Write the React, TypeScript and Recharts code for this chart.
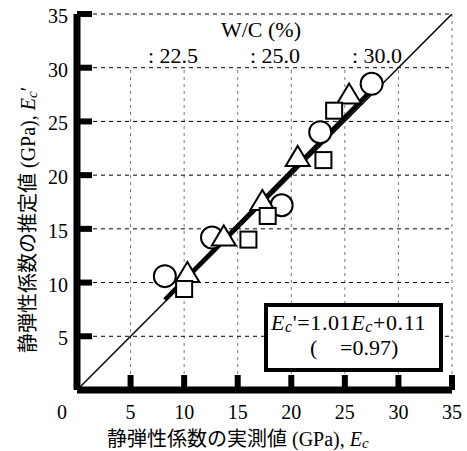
import React from 'react';
import { ScatterChart, Scatter, XAxis, YAxis, CartesianGrid, ReferenceArea } from 'recharts';

const xTicks = [0, 5, 10, 15, 20, 25, 30, 35];
const yTicks = [5, 10, 15, 20, 25, 30, 35];

const wc225 = [
  { x: 8.2, y: 10.6 },
  { x: 12.6, y: 14.2 },
  { x: 19.1, y: 17.2 },
  { x: 22.7, y: 24.0 },
  { x: 27.5, y: 28.5 },
];
const wc250 = [
  { x: 10.3, y: 10.9 },
  { x: 13.7, y: 14.3 },
  { x: 17.3, y: 17.6 },
  { x: 20.6, y: 21.7 },
  { x: 25.4, y: 27.5 },
];
const wc300 = [
  { x: 10.0, y: 9.4 },
  { x: 16.0, y: 14.0 },
  { x: 17.8, y: 16.2 },
  { x: 23.0, y: 21.4 },
  { x: 24.0, y: 26.0 },
];
const equalityLine = [
  { x: 0, y: 0 },
  { x: 35, y: 35 },
];
const regressionLine = [
  { x: 8.2, y: 8.4 },
  { x: 27.3, y: 27.7 },
];
const legendLabels = [': 22.5', ': 25.0', ': 30.0'];

const SERIF = '"Liberation Serif", "Times New Roman", serif';
const JP = '"Noto Sans CJK JP", sans-serif';

const CircleShape = (p: any) => (
  <circle cx={p.cx} cy={p.cy} r={11} fill="#fff" stroke="#000" strokeWidth={2} />
);
const TriangleShape = (p: any) => (
  <polygon
    points={`${p.cx},${p.cy - 11} ${p.cx - 12},${p.cy + 9} ${p.cx + 12},${p.cy + 9}`}
    fill="#fff"
    stroke="#000"
    strokeWidth={2}
  />
);
const SquareShape = (p: any) => (
  <rect x={p.cx - 8} y={p.cy - 8} width={16} height={16} fill="#fff" stroke="#000" strokeWidth={2} />
);
const NoShape = () => <g />;

const XTick = (p: any) => {
  const v = p.payload.value;
  return (
    <text x={v === 0 ? p.x - 15 : p.x} y={p.y + 44} textAnchor="middle" fontFamily={SERIF} fontSize={20} fill="#000">
      {v}
    </text>
  );
};
const YTick = (p: any) => {
  const v = p.payload.value;
  return (
    <text x={p.x - 24} y={p.y + 9} textAnchor="end" fontFamily={SERIF} fontSize={20} fill="#000">
      {v}
    </text>
  );
};

export default function App() {
  return (
    <div style={{ position: 'absolute', left: 0, top: 0, width: 467, height: 451 }}>
      <ScatterChart width={467} height={451} margin={{ top: 14, right: 15, bottom: 0, left: 0 }}>
        <CartesianGrid horizontal={false} stroke="#777" strokeDasharray="3 4" strokeWidth={1} />
        <CartesianGrid vertical={false} stroke="#000" strokeDasharray="4 4" strokeWidth={1} />
        <ReferenceArea x1={0.3} x2={34.9} y1={30.1} y2={34.9} fill="#fff" fillOpacity={1} stroke="none" zIndex={-50} />
        <XAxis
          type="number"
          dataKey="x"
          domain={[0, 35]}
          ticks={xTicks}
          interval={0}
          height={61}
          axisLine={{ stroke: '#000', strokeWidth: 7 }}
          tickLine={{ stroke: '#000', strokeWidth: 6 }}
          tickSize={-15}
          tickMargin={0}
          tick={<XTick />}
          allowDataOverflow
        />
        <YAxis
          type="number"
          dataKey="y"
          domain={[0, 35]}
          ticks={yTicks}
          interval={0}
          width={77}
          axisLine={{ stroke: '#000', strokeWidth: 7 }}
          tickLine={{ stroke: '#000', strokeWidth: 6 }}
          tickSize={-15}
          tickMargin={0}
          tick={<YTick />}
          allowDataOverflow
        />
        <Scatter data={equalityLine} line={{ stroke: '#000', strokeWidth: 1.5 }} shape={NoShape} isAnimationActive={false} />
        <Scatter data={regressionLine} line={{ stroke: '#000', strokeWidth: 4.5 }} shape={NoShape} isAnimationActive={false} />
        <Scatter data={wc225} shape={CircleShape} isAnimationActive={false} />
        <Scatter data={wc250} shape={TriangleShape} isAnimationActive={false} />
        <Scatter data={wc300} shape={SquareShape} isAnimationActive={false} />
      </ScatterChart>
      <svg width={467} height={451} style={{ position: 'absolute', left: 0, top: 0, pointerEvents: 'none' }}>
        <text x={261} y={37} textAnchor="middle" fontFamily={SERIF} fontSize={22} fill="#000">W/C (%)</text>
        <text x={148} y={63} fontFamily={SERIF} fontSize={22} fill="#000">{legendLabels[0]}</text>
        <text x={250} y={63} fontFamily={SERIF} fontSize={22} fill="#000">{legendLabels[1]}</text>
        <text x={352} y={63} fontFamily={SERIF} fontSize={22} fill="#000">{legendLabels[2]}</text>

        <rect x={266} y={305} width={175} height={65} fill="#fff" stroke="#000" strokeWidth={4} />
        <text x={271} y={330} fontFamily={SERIF} fontSize={22} letterSpacing={0.6} fill="#000">
          <tspan fontStyle="italic">E</tspan>
          <tspan fontStyle="italic" fontSize={16} dy={2}>c</tspan>
          <tspan dy={-2}>'=1.01</tspan>
          <tspan fontStyle="italic">E</tspan>
          <tspan fontStyle="italic" fontSize={16} dy={2}>c</tspan>
          <tspan dy={-2}>+0.11</tspan>
        </text>
        <text x={310} y={355} fontFamily={SERIF} fontSize={22} fill="#000">(</text>
        <text x={340} y={355} fontFamily={SERIF} fontSize={22} fill="#000">=0.97)</text>

        <text x={107} y={446} fontSize={20} fill="#000">
          <tspan fontFamily={JP}>静弾性係数の実測値</tspan>
          <tspan fontFamily={SERIF}> (GPa), </tspan>
          <tspan fontFamily={SERIF} fontStyle="italic">E</tspan>
          <tspan fontFamily={SERIF} fontStyle="italic" fontSize={15} dy={2}>c</tspan>
        </text>
        <text x={35} y={353} fontSize={20} fill="#000" transform="rotate(-90, 35, 353)">
          <tspan fontFamily={JP}>静弾性係数の推定値</tspan>
          <tspan fontFamily={SERIF}> (GPa), </tspan>
          <tspan fontFamily={SERIF} fontStyle="italic">E</tspan>
          <tspan fontFamily={SERIF} fontStyle="italic" fontSize={15} dy={2}>c</tspan>
          <tspan fontFamily={SERIF} dy={-2}>′</tspan>
        </text>
      </svg>
    </div>
  );
}
